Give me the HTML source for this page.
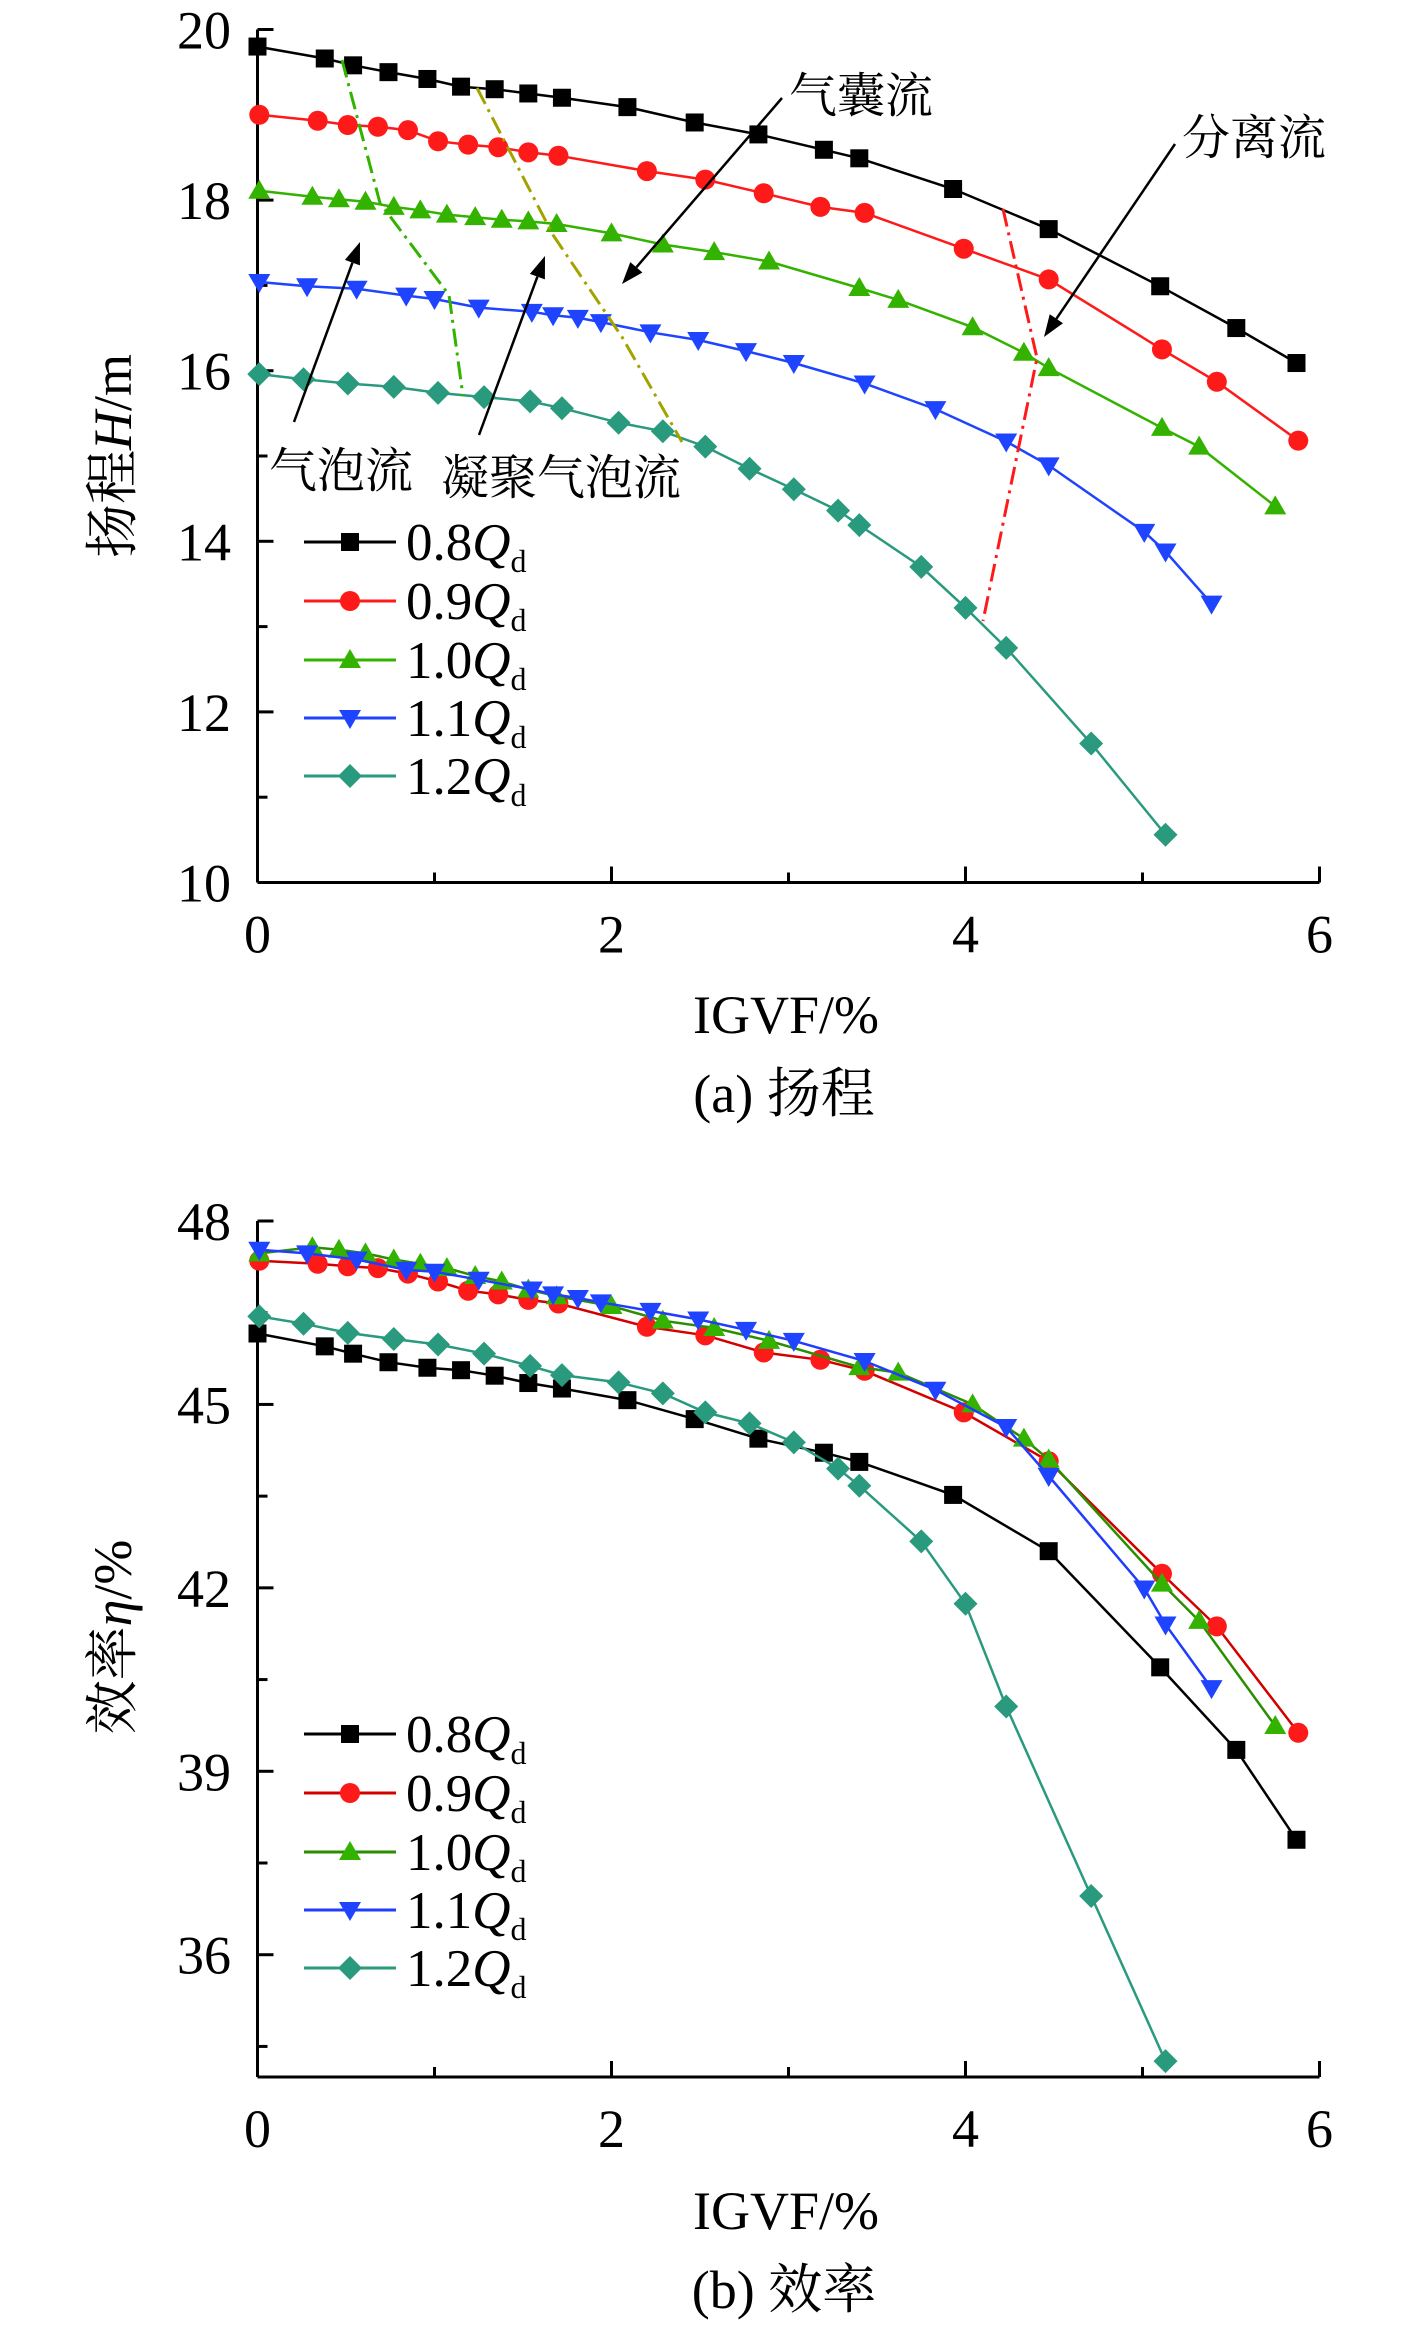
<!DOCTYPE html>
<html><head><meta charset="utf-8"><style>
body{margin:0;background:#fff;}
svg{display:block;font-family:"Liberation Serif","Noto Serif CJK SC",serif;}
</style></head><body>
<svg id="c" width="1417" height="2325" viewBox="0 0 1417 2325" xmlns="http://www.w3.org/2000/svg">
</svg>
<script>
const NS="http://www.w3.org/2000/svg";
const svg=document.getElementById('c');
// ---- data (a) head ----
const seriesNames=["0.8","0.9","1.0","1.1","1.2"];
const xA08=[0,0.38,0.54,0.74,0.96,1.15,1.34,1.53,1.72,2.09,2.47,2.83,3.20,3.40,3.93,4.47,5.10,5.53,5.87];
const hA08=[19.80,19.66,19.58,19.50,19.42,19.33,19.30,19.25,19.20,19.09,18.91,18.77,18.59,18.49,18.13,17.66,16.99,16.50,16.09];
const xA09=[0.01,0.34,0.51,0.68,0.85,1.02,1.19,1.36,1.53,1.70,2.20,2.53,2.86,3.18,3.43,3.99,4.47,5.11,5.42,5.88];
const hA09=[19.00,18.93,18.88,18.86,18.82,18.69,18.65,18.62,18.56,18.52,18.34,18.24,18.08,17.92,17.85,17.43,17.07,16.25,15.87,15.18];
const xA10=[0.01,0.31,0.46,0.61,0.77,0.92,1.07,1.23,1.38,1.53,1.69,2.0,2.29,2.58,2.89,3.40,3.62,4.04,4.33,4.47,5.11,5.32,5.75];
const hA10=[18.11,18.04,18.01,17.98,17.92,17.88,17.83,17.80,17.77,17.75,17.72,17.61,17.48,17.39,17.28,16.97,16.83,16.51,16.21,16.03,15.33,15.11,14.41];
const xA11=[0.01,0.28,0.56,0.84,1.00,1.25,1.55,1.67,1.81,1.94,2.22,2.49,2.76,3.03,3.43,3.83,4.23,4.47,5.01,5.13,5.39];
const hA11=[17.04,16.99,16.96,16.88,16.84,16.74,16.69,16.65,16.62,16.57,16.45,16.36,16.23,16.09,15.85,15.55,15.17,14.89,14.11,13.88,13.27];
const xA12=[0.01,0.26,0.51,0.77,1.02,1.28,1.54,1.72,2.04,2.29,2.53,2.78,3.03,3.28,3.40,3.75,4.0,4.23,4.71,5.13];
const hA12=[15.96,15.90,15.85,15.81,15.74,15.69,15.64,15.56,15.39,15.29,15.11,14.85,14.61,14.36,14.19,13.70,13.22,12.75,11.63,10.56];
// ---- data (b) efficiency ----
const eB08=[46.16,45.95,45.83,45.69,45.60,45.56,45.47,45.35,45.26,45.07,44.76,44.44,44.21,44.06,43.52,42.60,40.70,39.35,37.88];
const eB09=[47.35,47.30,47.26,47.23,47.14,47.01,46.86,46.80,46.71,46.65,46.27,46.13,45.85,45.73,45.55,44.87,44.07,42.23,41.37,39.63];
const eB10=[47.47,47.57,47.53,47.47,47.37,47.30,47.23,47.10,47.01,46.88,46.77,46.61,46.37,46.25,46.04,45.61,45.52,45.0,44.44,44.10,42.07,41.46,39.74];
const eB11=[47.53,47.47,47.37,47.20,47.17,47.04,46.88,46.80,46.74,46.67,46.53,46.39,46.22,46.04,45.71,45.24,44.63,43.83,41.99,41.40,40.36];
const eB12=[46.44,46.32,46.17,46.07,45.98,45.83,45.63,45.48,45.36,45.18,44.87,44.69,44.38,43.95,43.67,42.76,41.74,40.06,36.96,34.26];
const xTicks=[0,2,4,6];
const yTicksA=[10,12,14,16,18,20];
const yTicksB=[36,39,42,45,48];

function el(tag,attrs,parent){const e=document.createElementNS(NS,tag);for(const k in attrs)e.setAttribute(k,attrs[k]);(parent||svg).appendChild(e);return e;}
const X0=257.5,X1=1319.5;
const sx=v=>X0+(X1-X0)*v/6;
const syA=v=>882.5-(882.5-29.5)*(v-10)/10;
const syB=v=>2077-(2077-1221)*(v-34)/14;
const colors=["#000000","#ff1a1a","#33b300","#1f44ff","#2a9a7e"];
const lineColorsB=["#000000","#d40000","#2a8f00","#1f3cff","#2a9a7e"];
const markers=["square","circle","up","down","diamond"];

function marker(g,type,x,y,col){
  let m;
  if(type==="square") m=el('rect',{x:x-9,y:y-9,width:18,height:18,fill:col},g);
  else if(type==="circle") m=el('circle',{cx:x,cy:y,r:10,fill:col},g);
  else if(type==="up") m=el('polygon',{points:`${x},${y-11} ${x+11},${y+8} ${x-11},${y+8}`,fill:col},g);
  else if(type==="down") m=el('polygon',{points:`${x},${y+11} ${x+11},${y-8} ${x-11},${y-8}`,fill:col},g);
  else m=el('polygon',{points:`${x},${y-12} ${x+12},${y} ${x},${y+12} ${x-12},${y}`,fill:col},g);
  
  
}
function series(xs,ys,sy,i,lc,name){
  const g=el('g',{});
  
  
  const pts=xs.map((x,k)=>sx(x).toFixed(1)+','+sy(ys[k]).toFixed(1)).join(' ');
  el('polyline',{points:pts,fill:'none',stroke:lc,'stroke-width':2.5},g);
  xs.forEach((x,k)=>marker(g,markers[i],sx(x),sy(ys[k]),colors[i]));
}
function axes(sy,yT,minor,top,bottom,prefix){
  const g=el('g',{stroke:'#000','stroke-width':3});
  
  
  el('line',{x1:X0,y1:top,x2:X0,y2:bottom},g);
  el('line',{x1:X0,y1:bottom,x2:X1,y2:bottom},g);
  for(let v=0;v<=6;v++){const len=(v%2===0)?16:10;el('line',{x1:sx(v),y1:bottom,x2:sx(v),y2:bottom-len},g);}
  yT.forEach(v=>el('line',{x1:X0,y1:sy(v),x2:X0+16,y2:sy(v)},g));
  minor.forEach(v=>el('line',{x1:X0,y1:sy(v),x2:X0+10,y2:sy(v)},g));
  xTicks.forEach(v=>{const t=el('text',{x:sx(v),y:bottom+70,'font-size':54,'text-anchor':'middle'});t.textContent=v;
    });
  yT.forEach(v=>{const t=el('text',{x:231,y:sy(v)+19,'font-size':54,'text-anchor':'end'});t.textContent=v;
    });
}
function legend(y0,prefix,lcs){
  const ys=[0,59,118,176,234];
  ys.forEach((dy,i)=>{
    const g=el('g',{});
    
    
    const y=y0+dy;
    el('line',{x1:304,y1:y,x2:396,y2:y,stroke:lcs[i],'stroke-width':3},g);
    marker(g,markers[i],350,y,colors[i]);
    const t=el('text',{x:406,y:y+18,'font-size':53},g);
    t.innerHTML=seriesNames[i]+'<tspan font-style="italic">Q</tspan><tspan font-size="32" dy="12">d</tspan>';
  });
}
// chart a
axes(syA,yTicksA,[11,13,15,17,19],29.5,882.5,'head');
series(xA08,hA08,syA,0,colors[0],'series-0.8Qd-head');
series(xA09,hA09,syA,1,colors[1],'series-0.9Qd-head');
series(xA10,hA10,syA,2,colors[2],'series-1.0Qd-head');
series(xA11,hA11,syA,3,colors[3],'series-1.1Qd-head');
series(xA12,hA12,syA,4,colors[4],'series-1.2Qd-head');
legend(542,'head',colors);
const b1=el('polyline',{points:'342,60 380,203 449,295 463,396',fill:'none',stroke:'#33b300','stroke-width':3,'stroke-dasharray':'18,6,3,6'});

const b2=el('polyline',{points:'477,88 553,235 622,337 682,442',fill:'none',stroke:'#a3a300','stroke-width':3,'stroke-dasharray':'18,6,3,6'});

const b3=el('polyline',{points:'1003,209 1037,358 983,621',fill:'none',stroke:'#ff1a1a','stroke-width':3,'stroke-dasharray':'18,6,3,6'});

function arrow(x1,y1,x2,y2,name){
  const g=el('g',{});
  
  
  const a=Math.atan2(y2-y1,x2-x1),L=22,W=8;
  const bx=x2-L*Math.cos(a),by=y2-L*Math.sin(a);
  el('line',{x1:x1,y1:y1,x2:bx,y2:by,stroke:'#000','stroke-width':2.5},g);
  el('polygon',{points:`${x2},${y2} ${bx+W*Math.sin(a)},${by-W*Math.cos(a)} ${bx-W*Math.sin(a)},${by+W*Math.cos(a)}`,fill:'#000'},g);
}
arrow(294,422,360,242,'bubble-flow-arrow');
arrow(479,435,545,256,'agglomerated-flow-arrow');
arrow(782,98,622,284,'slug-flow-arrow');
arrow(1175,144,1044,337,'separated-flow-arrow');
function label(x,y,txt,name,size,anchor){
  const t=el('text',{x:x,y:y,'font-size':size||48,'text-anchor':anchor||'start'});
  t.textContent=txt;
  
  
  return t;
}
label(789,112,'气囊流','slug-flow-label');
label(1182,154,'分离流','separated-flow-label');
label(269,487,'气泡流','bubble-flow-label');
label(441,494,'凝聚气泡流','agglomerated-bubble-flow-label');
label(786,1033,'IGVF/%','x-axis-title-head',54,'middle');
label(784,1112,'(a) 扬程','caption-a',54,'middle');
const ya=el('text',{x:0,y:0,'font-size':54,'text-anchor':'middle',transform:'translate(131,456) rotate(-90)'});
ya.innerHTML='扬程<tspan font-style="italic">H</tspan>/m';

// chart b
axes(syB,yTicksB,[34.5,37.5,40.5,43.5,46.5],1221,2077,'efficiency');
series(xA08,eB08,syB,0,lineColorsB[0],'series-0.8Qd-eff');
series(xA09,eB09,syB,1,lineColorsB[1],'series-0.9Qd-eff');
series(xA10,eB10,syB,2,lineColorsB[2],'series-1.0Qd-eff');
series(xA11,eB11,syB,3,lineColorsB[3],'series-1.1Qd-eff');
series(xA12,eB12,syB,4,lineColorsB[4],'series-1.2Qd-eff');
legend(1734,'eff',lineColorsB);
label(786,2229,'IGVF/%','x-axis-title-eff',54,'middle');
label(784,2308,'(b) 效率','caption-b',54,'middle');
const yb=el('text',{x:0,y:0,'font-size':54,'text-anchor':'middle',transform:'translate(131,1637) rotate(-90)'});
yb.innerHTML='效率<tspan font-style="italic">η</tspan>/%';

</script>
</body></html>
